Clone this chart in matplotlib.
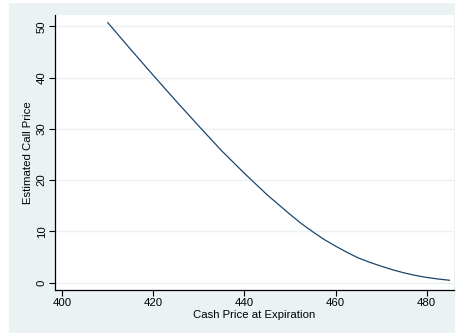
import matplotlib
matplotlib.use("Agg")
import matplotlib.pyplot as plt
from matplotlib.patches import Rectangle

plt.rcParams["font.family"] = ["Liberation Sans", "DejaVu Sans"]

# Cash price at expiration and the estimated option price
cash_price = [410, 415, 420, 425, 430, 435, 440, 442.5, 445, 447.5, 450,
              452.5, 455, 457.5, 460, 462.5, 465, 467.5, 470, 472.5, 475,
              477.5, 480, 482.5, 485]
call_price = [50.7, 45.5, 40.4, 35.4, 30.5, 25.7, 21.3, 19.2, 17.1, 15.2,
              13.3, 11.5, 9.9, 8.4, 7.1, 5.9, 4.8, 3.95, 3.2, 2.5, 1.9,
              1.4, 1.0, 0.7, 0.45]

x_ticks = [400, 420, 440, 460, 480]
y_ticks = [0, 10, 20, 30, 40, 50]

W, H = 457, 334
fig = plt.figure(figsize=(W / 100, H / 100), dpi=100, facecolor="white")

# graph region background
bg = "#EAF2F3"
fig.patches.append(Rectangle((9 / W, 1 / H), (455 - 9) / W, (333 - 3) / H,
                             transform=fig.transFigure, facecolor=bg,
                             edgecolor="none", zorder=-10))

ax = fig.add_axes([55 / W, (H - 290) / H, (454 - 55) / W, (290 - 15) / H])
ax.set_zorder(5)
ax.set_facecolor("white")

ax.plot(cash_price, call_price, color="#1A476F", lw=0.9, zorder=3)

ax.set_xlim(398.4, 486.0)
ax.set_ylim(-1.45, 52.2)
ax.set_xticks(x_ticks)
ax.set_yticks(y_ticks)
ax.set_yticklabels([str(v) for v in y_ticks], rotation=90, va="center")

ax.grid(axis="y", color=bg, lw=1.0, zorder=1)
ax.grid(axis="x", visible=False)

for side in ("top", "right"):
    ax.spines[side].set_visible(False)
for side in ("left", "bottom"):
    ax.spines[side].set_color("black")
    ax.spines[side].set_linewidth(0.9)

ax.tick_params(axis="both", direction="out", length=4, width=0.8,
               color="black", labelsize=8.2, pad=2)

ax.set_xlabel("Cash Price at Expiration", fontsize=8.2, labelpad=1)
ax.set_ylabel("Estimated Call Price", fontsize=8.2, labelpad=3)

fig.savefig("out.png", dpi=100, facecolor="white")
